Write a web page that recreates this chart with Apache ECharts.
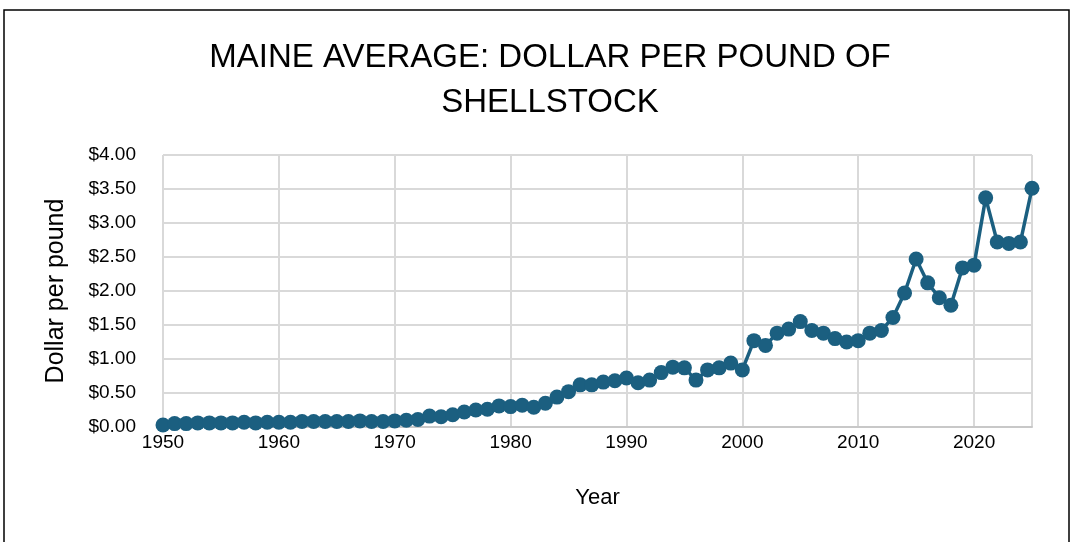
<!DOCTYPE html>
<html>
<head>
<meta charset="utf-8">
<script src="https://cdn.jsdelivr.net/npm/echarts@6/dist/echarts.min.js"></script>
<style>
  html, body { margin: 0; padding: 0; background: #fff; }
  #chart { width: 1073px; height: 542px; }
</style>
</head>
<body>
<div id="chart"></div>
<script>
var years = [];
for (var y = 1950; y <= 2025; y++) years.push(y);

// dollars per pound
var prices = [
    0.03, 0.05, 0.05, 0.06, 0.06, 0.06, 0.06, 0.07, 0.06, 0.07,
    0.07, 0.07, 0.08, 0.08, 0.08, 0.08, 0.08, 0.09, 0.08, 0.08,
    0.09, 0.10, 0.11, 0.16, 0.15, 0.18, 0.22, 0.25, 0.26, 0.31,
    0.30, 0.32, 0.29, 0.35, 0.44, 0.52, 0.62, 0.62, 0.66, 0.68,
    0.72, 0.65, 0.69, 0.80, 0.88, 0.87, 0.69, 0.84, 0.87, 0.94,
    0.84, 1.27, 1.20, 1.38, 1.44, 1.55, 1.42, 1.38, 1.30, 1.25,
    1.27, 1.38, 1.42, 1.61, 1.97, 2.47, 2.12, 1.90, 1.79, 2.34,
    2.38, 3.37, 2.72, 2.70, 2.72, 3.51
];

var seriesData = years.map(function (yr, i) {
    return [yr, prices[i]];
});

var lineColor = '#1b5f80';
var fontName = 'Liberation Sans';

var myChart = echarts.init(document.getElementById('chart'));

var option = {
    backgroundColor: '#fff',
    animation: false,
    title: {
        text: 'MAINE AVERAGE: DOLLAR PER POUND OF\nSHELLSTOCK',
        left: 545,
        textAlign: 'center',
        top: 30,
        textStyle: {
            color: '#000',
            fontFamily: fontName,
            fontWeight: 'normal',
            fontSize: 33,
            lineHeight: 45
        }
    },
    graphic: [
        {
            type: 'rect',
            shape: { x: 4, y: 10, width: 1065, height: 545 },
            style: { fill: null, stroke: '#000', lineWidth: 1.5 }
        }
    ],
    grid: {
        left: 163,
        right: 41,
        top: 155,
        bottom: 115
    },
    xAxis: {
        type: 'value',
        min: 1950,
        max: 2025,
        interval: 10,
        name: 'Year',
        nameLocation: 'middle',
        nameGap: 60,
        nameTextStyle: { color: '#000', fontFamily: fontName, fontSize: 22 },
        axisLine: { show: true, lineStyle: { color: '#c8c8c8', width: 2 } },
        axisTick: { show: false },
        axisLabel: {
            color: '#000',
            fontFamily: fontName,
            fontSize: 19,
            margin: 6,
            showMaxLabel: false,
            formatter: function (v) { return String(v); }
        },
        splitLine: { show: true, lineStyle: { color: '#d9d9d9', width: 2 } }
    },
    yAxis: {
        type: 'value',
        min: 0,
        max: 4,
        interval: 0.5,
        name: 'Dollar per pound',
        nameLocation: 'middle',
        nameGap: 94,
        nameRotate: 90,
        nameTextStyle: { color: '#000', fontFamily: fontName, fontSize: 25 },
        axisLine: { show: false },
        axisTick: { show: false },
        axisLabel: {
            color: '#000',
            fontFamily: fontName,
            fontSize: 19,
            margin: 27,
            formatter: function (v) { return '$' + v.toFixed(2); }
        },
        splitLine: { show: true, lineStyle: { color: '#d9d9d9', width: 2 } }
    },
    series: [
        {
            name: 'Price',
            type: 'line',
            data: seriesData,
            symbol: 'circle',
            symbolSize: 15,
            clip: false,
            lineStyle: { color: lineColor, width: 3.5 },
            itemStyle: { color: lineColor, borderWidth: 0 }
        }
    ]
};

myChart.setOption(option);
</script>
</body>
</html>
